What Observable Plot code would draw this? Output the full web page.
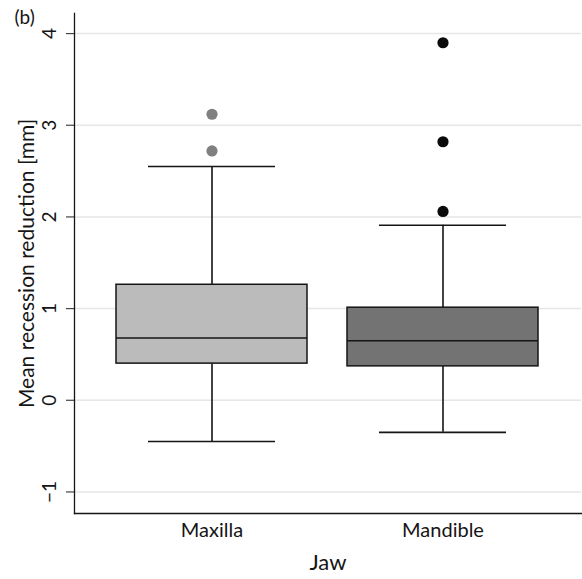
<!DOCTYPE html>
<html>
<head>
<meta charset="utf-8">
<script src="https://cdn.jsdelivr.net/npm/d3@7"></script>
<script src="https://cdn.jsdelivr.net/npm/@observablehq/plot@0.6"></script>
<style>
  html, body { margin: 0; padding: 0; background: #fff; }
  #chart svg { display: block; }
</style>
</head>
<body>
<div id="chart"></div>
<script>
// Box summaries of mean recession reduction (mm) by jaw
const jaws = ["Maxilla", "Mandible"];
const q1 = [0.40, 0.37];
const median = [0.68, 0.65];
const q3 = [1.26, 1.01];
const whiskerLow = [-0.45, -0.35];
const whiskerHigh = [2.55, 1.91];
const fills = ["#bbbbbb", "#737373"];

// Points beyond the whiskers
const outlierJaw = ["Maxilla", "Maxilla", "Mandible", "Mandible", "Mandible"];
const outlierValue = [3.12, 2.72, 3.90, 2.82, 2.06];
const outlierColor = ["#808080", "#808080", "#0a0a0a", "#0a0a0a", "#0a0a0a"];

const yTicks = [-1, 0, 1, 2, 3, 4];
const yDomain = [-1.235, 4.219];

const boxes = jaws.map((jaw, i) => ({
  jaw, q1: q1[i], median: median[i], q3: q3[i],
  lo: whiskerLow[i], hi: whiskerHigh[i], fill: fills[i]
}));
const outliers = outlierValue.map((v, i) => ({jaw: outlierJaw[i], value: v, color: outlierColor[i]}));

const font = "Lato, 'Open Sans', sans-serif";
const ink = "#151515";

const chart = Plot.plot({
  width: 582,
  height: 579,
  marginLeft: 74,
  marginRight: 1,
  marginTop: 13,
  marginBottom: 66,
  style: {fontFamily: font, color: ink, background: "#fff"},
  x: {type: "band", domain: jaws, paddingInner: 0.1724, paddingOuter: 0.179, label: null},
  y: {domain: yDomain, label: null},
  marks: [
    Plot.gridY(yTicks, {stroke: "#e6e6e6", strokeOpacity: 1, strokeWidth: 1.5}),
    // whiskers
    Plot.ruleX(boxes, {x: "jaw", y1: "q3", y2: "hi", stroke: ink, strokeWidth: 1.6}),
    Plot.ruleX(boxes, {x: "jaw", y1: "lo", y2: "q1", stroke: ink, strokeWidth: 1.6}),
    Plot.tickY(boxes, {x: "jaw", y: "hi", insetLeft: 32, insetRight: 32, stroke: ink, strokeWidth: 1.6}),
    Plot.tickY(boxes, {x: "jaw", y: "lo", insetLeft: 32, insetRight: 32, stroke: ink, strokeWidth: 1.6}),
    // boxes and medians
    Plot.barY(boxes, {x: "jaw", y1: "q1", y2: "q3", fill: "fill", stroke: ink, strokeWidth: 1.5}),
    Plot.tickY(boxes, {x: "jaw", y: "median", stroke: ink, strokeWidth: 1.6}),
    // outliers
    Plot.dot(outliers, {x: "jaw", y: "value", r: 5.6, fill: "color", stroke: null}),
    // axes
    Plot.axisY({ticks: yTicks, tickFormat: d3.format("d"), tickRotate: -90, tickSize: 8, tickPadding: 11, fontSize: 19, label: null, stroke: "#444", strokeWidth: 1.2}),
    Plot.axisX({tickSize: 0, tickPadding: 9, fontSize: 20, label: null}),
    Plot.frame({anchor: "left", stroke: ink, strokeWidth: 1.3}),
    Plot.frame({anchor: "bottom", stroke: ink, strokeWidth: 1.3}),
    // titles
    Plot.text(["Jaw"], {frameAnchor: "bottom", dy: 49, fontSize: 22, textAnchor: "middle", lineAnchor: "middle", fill: ink}),
    Plot.text(["Mean recession reduction [mm]"], {frameAnchor: "left", dx: -47, rotate: -90, fontSize: 21, textAnchor: "middle", lineAnchor: "middle", fill: ink}),
    Plot.text(["(b)"], {frameAnchor: "top-left", dx: -60, dy: 10, textAnchor: "start", lineAnchor: "bottom", fontSize: 19, fill: ink})
  ]
});

document.getElementById("chart").appendChild(chart);
</script>
</body>
</html>
